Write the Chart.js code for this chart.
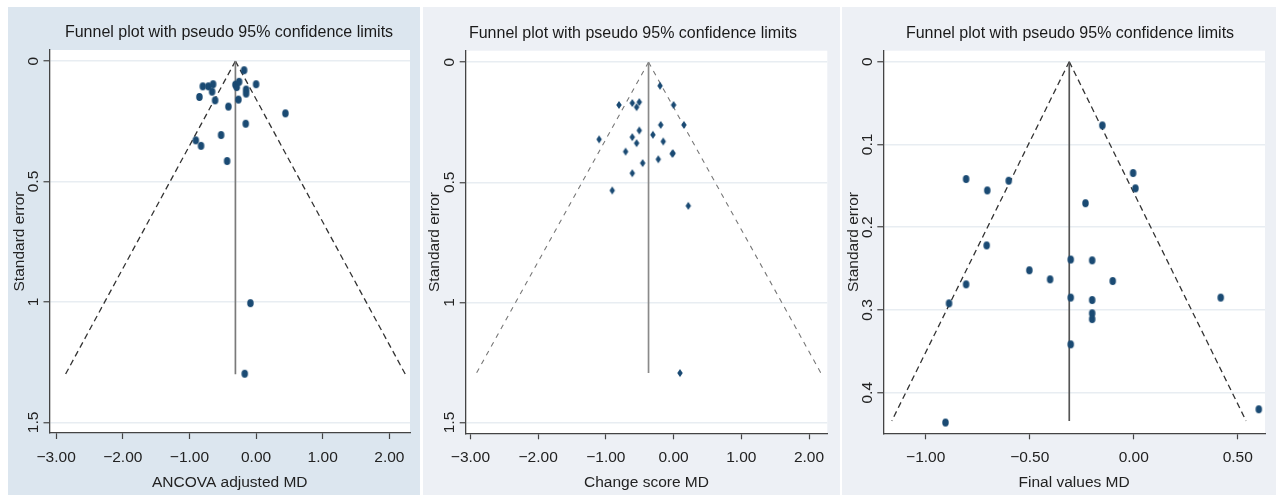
<!DOCTYPE html>
<html><head><meta charset="utf-8">
<script src="https://cdn.jsdelivr.net/npm/chart.js@4.4.1/dist/chart.umd.min.js"></script>
<style>
html,body{margin:0;padding:0;background:#fff;width:1276px;height:495px;overflow:hidden;}
.panel{position:absolute;top:7px;height:488px;}
#p1{left:8px;width:412px;background:#dce6ef;}
#p2{left:423px;width:417px;background:#edf0f5;}
#p3{left:842px;width:434px;background:#edf0f5;}
canvas{display:block;}
</style></head><body>
<div class="panel" id="p1"><canvas id="c1" width="412" height="488"></canvas></div>
<div class="panel" id="p2"><canvas id="c2" width="417" height="488"></canvas></div>
<div class="panel" id="p3"><canvas id="c3" width="434" height="488"></canvas></div>
<script>
const chartTitle = 'Funnel plot with pseudo 95% confidence limits';
const yAxisTitle = 'Standard error';

// Panel 1: ANCOVA adjusted MD
const ancovaMD = [-0.18,-0.80,-0.715,-0.645,-0.66,-0.85,-0.615,-0.31,-0.29,-0.255,0.0,-0.15,-0.15,-0.265,-0.415,0.44,-0.155,-0.525,-0.905,-0.826,-0.435,-0.085,-0.17];
const ancovaSE = [0.038,0.105,0.105,0.096,0.127,0.149,0.163,0.098,0.108,0.086,0.096,0.118,0.135,0.160,0.189,0.217,0.260,0.307,0.329,0.352,0.415,1.005,1.298];
const ancovaPooled = -0.31, ancovaFunnelSE = 1.30, ancovaFunnelLo = -2.86, ancovaFunnelHi = 2.24;
const ancovaXTicks = [-3,-2,-1,0,1,2];
const ancovaXLabels = ['\u22123.00','\u22122.00','\u22121.00','0.00','1.00','2.00'];
const ancovaYTicks = [0,0.5,1,1.5];
const ancovaYLabels = ['0','0.5','1','1.5'];

// Panel 2: Change score MD
const changeMD = [-0.20,-0.807,-0.61,-0.507,-0.546,0.0,-0.19,0.152,-0.507,-1.10,-0.61,-0.305,-0.546,-0.153,-0.709,-0.02,-0.008,-0.226,-0.457,-0.61,-0.906,0.217,0.094];
const changeSE = [0.098,0.178,0.170,0.166,0.187,0.178,0.261,0.261,0.284,0.321,0.312,0.302,0.337,0.330,0.372,0.381,0.379,0.404,0.420,0.462,0.534,0.598,1.294];
const changePooled = -0.37, changeFunnelSE = 1.294, changeFunnelLo = -2.91, changeFunnelHi = 2.175;
const changeXTicks = [-3,-2,-1,0,1,2];
const changeXLabels = ['\u22123.00','\u22122.00','\u22121.00','0.00','1.00','2.00'];
const changeYTicks = [0,0.5,1,1.5];
const changeYLabels = ['0','0.5','1','1.5'];

// Panel 3: Final values MD
const finalMD = [-0.151,-0.003,0.008,-0.806,-0.601,-0.704,-0.232,-0.707,-0.303,-0.200,-0.502,-0.402,-0.101,-0.806,-0.888,-0.303,-0.200,-0.200,-0.200,0.418,-0.303,-0.905,0.601];
const finalSE = [0.077,0.1345,0.153,0.1418,0.1438,0.1555,0.171,0.222,0.239,0.240,0.252,0.263,0.265,0.269,0.292,0.285,0.288,0.304,0.311,0.285,0.3415,0.436,0.420];
const finalPooled = -0.31, finalFunnelSE = 0.434, finalFunnelLo = -1.163, finalFunnelHi = 0.54;
const finalXTicks = [-1,-0.5,0,0.5];
const finalXLabels = ['\u22121.00','\u22120.50','0.00','0.50'];
const finalYTicks = [0,0.1,0.2,0.3,0.4];
const finalYLabels = ['0','0.1','0.2','0.3','0.4'];

Chart.defaults.font.family = '"Liberation Sans", Arial, sans-serif';
Chart.defaults.color = '#222';

const markerColor = '#1a4a73';
function ellipseSprite(w, h){
  const c = document.createElement('canvas');
  c.width = Math.ceil(w) + 2; c.height = Math.ceil(h) + 2;
  const g = c.getContext('2d');
  g.fillStyle = markerColor; g.beginPath();
  g.ellipse(c.width/2, c.height/2, w/2, h/2, 0, 0, Math.PI*2); g.fill();
  return c;
}
function diamondSprite(w, h){
  const c = document.createElement('canvas');
  c.width = Math.ceil(w) + 2; c.height = Math.ceil(h) + 2;
  const g = c.getContext('2d');
  const cx = c.width/2, cy = c.height/2;
  g.fillStyle = markerColor; g.beginPath();
  g.moveTo(cx, cy-h/2); g.lineTo(cx+w/2, cy); g.lineTo(cx, cy+h/2); g.lineTo(cx-w/2, cy); g.closePath(); g.fill();
  return c;
}

const plotBg = {id:'plotBg', beforeDraw(chart){
  const {ctx, chartArea:a} = chart;
  ctx.save(); ctx.fillStyle = '#fff';
  ctx.fillRect(a.left, a.top, a.right-a.left, a.bottom-a.top);
  ctx.restore();
}};
const panelText = {id:'panelText', afterDraw(chart){
  const o = chart.options.plugins.panelText;
  const s = chart.scales.y;
  const ctx = chart.ctx;
  ctx.save();
  // chart title
  ctx.font = '16px "Liberation Sans", Arial, sans-serif';
  ctx.fillStyle = '#1a1a1a'; ctx.textAlign = 'center'; ctx.textBaseline = 'middle';
  ctx.fillText(o.title, o.titleX, o.titleY);
  // rotated y tick labels
  ctx.font = '15.5px "Liberation Sans", Arial, sans-serif';
  ctx.fillStyle = '#222';
  s.ticks.forEach((t, i) => {
    const py = s.getPixelForValue(t.value);
    ctx.save(); ctx.translate(s.right - 16, py); ctx.rotate(-Math.PI/2);
    ctx.fillText(o.labels[i], 0, 0); ctx.restore();
  });
  ctx.restore();
}};

function makeChart(id, cfg){
  const pts = cfg.xs.map((x, i) => ({x, y: cfg.ys[i]}));
  const dash = {borderColor: cfg.dashColor, borderWidth: cfg.dashWidth, borderDash: cfg.dash, pointRadius: 0, showLine: true, order: 2};
  new Chart(document.getElementById(id), {
    type: 'scatter',
    data: {datasets: [
      {data: pts, pointStyle: cfg.sprite, pointRadius: 4, pointHoverRadius: 4, order: 0},
      Object.assign({data: [{x: cfg.pooled, y: 0}, {x: cfg.lo, y: cfg.seMax}]}, dash),
      Object.assign({data: [{x: cfg.pooled, y: 0}, {x: cfg.hi, y: cfg.seMax}]}, dash),
      {data: [{x: cfg.pooled, y: 0}, {x: cfg.pooled, y: cfg.seMax}], borderColor: cfg.vColor, borderWidth: 1.7, pointRadius: 0, showLine: true, order: 1}
    ]},
    options: {
      responsive: false, animation: false,
      layout: {padding: {right: cfg.padRight, left: 0, top: cfg.padTop, bottom: 0}},
      plugins: {
        legend: {display: false}, tooltip: {enabled: false}, title: {display: false},
        panelText: {title: chartTitle, titleX: cfg.titleX, titleY: cfg.titleY, labels: cfg.yLabels}
      },
      scales: {
        x: {
          type: 'linear', min: cfg.xMin, max: cfg.xMax,
          afterBuildTicks: s => { s.ticks = cfg.xTicks.map(v => ({value: v})); },
          afterFit: s => { s.height = cfg.xAxisH; },
          ticks: {callback: v => cfg.xLabels[cfg.xTicks.indexOf(v)], font: {size: 15.5}, color: '#222', padding: 9, maxRotation: 0, autoSkip: false},
          grid: {drawOnChartArea: false, drawTicks: true, tickLength: 6, tickColor: '#444', tickWidth: 1.2},
          border: {display: true, color: '#444', width: 1.3},
          title: {display: true, text: cfg.xTitle, font: {size: 15.5}, color: '#222', padding: {top: 0, bottom: 3}}
        },
        y: {
          type: 'linear', reverse: true, min: cfg.yMin, max: cfg.yMax,
          afterBuildTicks: s => { s.ticks = cfg.yTicks.map(v => ({value: v})); },
          afterFit: s => { s.width = cfg.yAxisW; },
          ticks: {display: false},
          grid: {color: '#e8edf2', lineWidth: 1.5, drawTicks: true, tickLength: 6, tickColor: '#444', tickWidth: 1.2},
          border: {display: true, color: '#444', width: 1.3},
          title: {display: true, text: yAxisTitle, font: {size: 15.5}, color: '#222', padding: {top: 2, bottom: 0}}
        }
      }
    },
    plugins: [plotBg, panelText]
  });
}

makeChart('c1', {
  xs: ancovaMD, ys: ancovaSE, sprite: ellipseSprite(6.5, 8),
  pooled: ancovaPooled, seMax: ancovaFunnelSE, lo: ancovaFunnelLo, hi: ancovaFunnelHi,
  dashColor: '#333', dashWidth: 1.3, dash: [6, 4], vColor: '#7a7a7a',
  xMin: -3.10, xMax: 2.31, yMin: -0.046, yMax: 1.544,
  xTicks: ancovaXTicks, xLabels: ancovaXLabels, yTicks: ancovaYTicks, yLabels: ancovaYLabels,
  xTitle: 'ANCOVA adjusted MD', padRight: 10, yAxisW: 41.5, xAxisH: 62, padTop: 43, titleX: 221, titleY: 25.5
});
makeChart('c2', {
  xs: changeMD, ys: changeSE, sprite: diamondSprite(5.5, 8),
  pooled: changePooled, seMax: changeFunnelSE, lo: changeFunnelLo, hi: changeFunnelHi,
  dashColor: '#777', dashWidth: 1.1, dash: [5, 5], vColor: '#8a8a8a',
  xMin: -3.07, xMax: 2.27, yMin: -0.048, yMax: 1.545,
  xTicks: changeXTicks, xLabels: changeXLabels, yTicks: changeYTicks, yLabels: changeYLabels,
  xTitle: 'Change score MD', padRight: 12.7, yAxisW: 42.7, xAxisH: 61.7, padTop: 43.7, titleX: 210, titleY: 26.3
});
makeChart('c3', {
  xs: finalMD, ys: finalSE, sprite: ellipseSprite(6.5, 8),
  pooled: finalPooled, seMax: finalFunnelSE, lo: finalFunnelLo, hi: finalFunnelHi,
  dashColor: '#333', dashWidth: 1.3, dash: [6, 4], vColor: '#555',
  xMin: -1.204, xMax: 0.631, yMin: -0.0133, yMax: 0.449,
  xTicks: finalXTicks, xLabels: finalXLabels, yTicks: finalYTicks, yLabels: finalYLabels,
  xTitle: 'Final values MD', padRight: 11, yAxisW: 41.3, xAxisH: 61.7, padTop: 43.7, titleX: 228, titleY: 26.3
});
</script>
</body></html>
